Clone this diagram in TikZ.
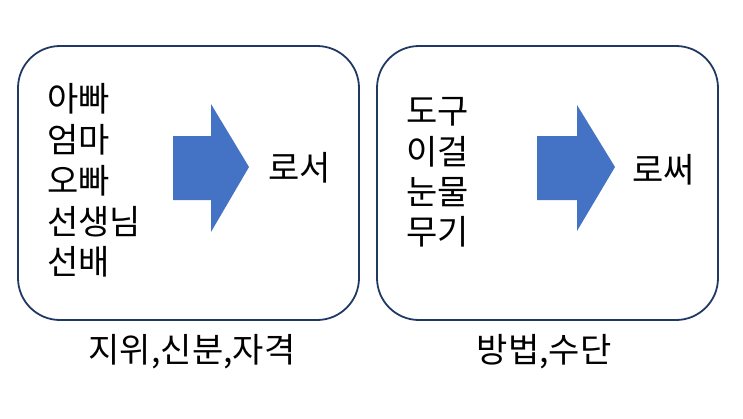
\documentclass[tikz,border=0pt]{standalone}
\usepackage{fontspec}
\setmainfont{Noto Sans CJK KR}
\definecolor{boxline}{HTML}{203864}
\definecolor{arrowfill}{HTML}{4472C4}
\tikzset{
  panel/.style={draw=boxline, line width=1.8pt, rounded corners=42bp},
  word/.style={inner sep=0pt, anchor=west, font=\fontsize{34bp}{40bp}\selectfont},
  caption/.style={word, anchor=center},
  bigarrow/.style={fill=arrowfill, draw=none}
}
\begin{document}
\begin{tikzpicture}[x=1bp,y=-1bp]
\useasboundingbox (0,0) rectangle (743,418);
% panels
\draw[panel] (18,46) rectangle (359,320);
\draw[panel] (377,46) rectangle (718,320);
% arrows
\fill[bigarrow] (173,136) -- (211,136) -- (211,104) -- (249,167) -- (211,232) -- (211,200) -- (173,200) -- cycle;
\fill[bigarrow] (537,136) -- (577,136) -- (577,105) -- (615,167) -- (577,231) -- (577,200) -- (537,200) -- cycle;
% left words
\node[word] (l1) at (47,99) {아빠};
\node[word] (l2) at (47,140) {엄마};
\node[word] (l3) at (47,181) {오빠};
\node[word] (l4) at (47,222) {선생님};
\node[word] (l5) at (47,262) {선배};
\node[word] (lr) at (268,168) {로서};
% right words
\node[word] (r1) at (406,112) {도구};
\node[word] (r2) at (406,152) {이걸};
\node[word] (r3) at (406,192) {눈물};
\node[word] (r4) at (406,232) {무기};
\node[word] (rr) at (632,170) {로써};
% captions
\node[caption] (lc) at (192,352) {지위,신분,자격};
\node[caption] (rc) at (544,352) {방법,수단};
\end{tikzpicture}
\end{document}
